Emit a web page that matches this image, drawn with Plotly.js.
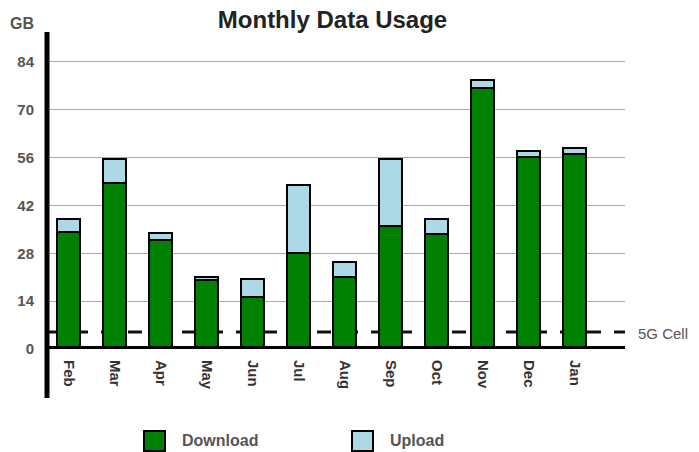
<!DOCTYPE html>
<html>
<head>
<meta charset="utf-8">
<script src="https://cdn.plot.ly/plotly-3.0.1.min.js"></script>
<style>
html,body{margin:0;padding:0;background:#fff;}
#chart{width:699px;height:452px;}
</style>
</head>
<body>
<div id="chart"></div>
<script>
// Data (GB)
const months = ["Feb","Mar","Apr","May","Jun","Jul","Aug","Sep","Oct","Nov","Dec","Jan"];
const download = [34.3, 48.6, 31.9, 20.1, 15.3, 28.0, 21.1, 36.0, 33.5, 76.2, 56.2, 57.0];
const upload   = [3.7, 7.0, 1.9, 0.9, 5.1, 19.9, 4.4, 19.5, 4.5, 2.4, 1.8, 1.9];
const yTicks = [0, 14, 28, 42, 56, 70, 84];
const cellLimit = 5;
const seriesNames = ["Download", "Upload"];

const FONT = "Arial, 'Liberation Sans', sans-serif";
const green = "#008000";
const blue = "#add8e6";

// pixel -> paper helpers (plot area: x 47..625, y 32..349)
const L = 47, R = 74, T = 32, B = 103, W = 699, H = 452;
const pw = W - L - R, ph = H - T - B;
const px = x => (x - L) / pw;
const py = y => (H - B - y) / ph;

const traces = [
  {
    type: "bar", name: seriesNames[0], x: months, y: download,
    width: 0.5,
    marker: {color: green, line: {color: "#000", width: 2}},
    hoverinfo: "x+y"
  },
  {
    type: "bar", name: seriesNames[1], x: months, y: upload,
    width: 0.5,
    marker: {color: blue, line: {color: "#000", width: 2}},
    hoverinfo: "x+y"
  }
];

const layout = {
  width: W, height: H,
  margin: {l: L, r: R, t: T, b: B, pad: 0},
  paper_bgcolor: "#fff", plot_bgcolor: "#fff",
  barmode: "stack",
  showlegend: false,
  title: {
    text: "Monthly Data Usage",
    x: px(332.5), xref: "paper", xanchor: "center",
    y: 1 - 20 / H, yref: "container", yanchor: "middle",
    font: {family: FONT, size: 24, color: "#222", weight: "bold"}
  },
  xaxis: {
    type: "category",
    range: [-0.467, 12.1],
    showgrid: false, zeroline: false, showline: false,
    ticks: "", tickangle: 90,
    ticklabelstandoff: 10,
    tickfont: {family: FONT, size: 15, color: "#333", weight: "bold"},
    fixedrange: true
  },
  yaxis: {
    range: [0, 92.7],
    tickvals: yTicks,
    ticktext: yTicks.map(String),
    showgrid: true, gridcolor: "#aaaaaa", gridwidth: 1,
    zeroline: false, showline: false,
    ticks: "", ticklabelstandoff: 12,
    tickfont: {family: FONT, size: 15, color: "#555", weight: "bold"},
    fixedrange: true
  },
  shapes: [
    // 5G cell dashed reference line (behind bars)
    {type: "line", layer: "below", xref: "paper", yref: "y",
     x0: 0, x1: 1, y0: cellLimit, y1: cellLimit,
     line: {color: "#111", width: 3, dash: "14px,13px"}},
    // thick x axis
    {type: "line", layer: "above", xref: "paper", yref: "y",
     x0: 0, x1: 1, y0: 0, y1: 0,
     line: {color: "#000", width: 6}},
    // thick y axis, extended below zero
    {type: "line", layer: "above", xref: "paper", yref: "paper",
     x0: 0, x1: 0, y0: py(398), y1: 1,
     line: {color: "#000", width: 5}},
    // legend swatches
    {type: "rect", xref: "paper", yref: "paper",
     x0: px(144), x1: px(165), y0: py(451), y1: py(431),
     fillcolor: green, line: {color: "#000", width: 2}},
    {type: "rect", xref: "paper", yref: "paper",
     x0: px(352), x1: px(373), y0: py(451), y1: py(431),
     fillcolor: blue, line: {color: "#000", width: 2}}
  ],
  annotations: [
    {text: "GB", xref: "paper", yref: "paper", x: px(22), y: py(24),
     xanchor: "center", yanchor: "middle", showarrow: false,
     font: {family: FONT, size: 16, color: "#555", weight: "bold"}},
    {text: "5G Cell", xref: "paper", yref: "y", x: px(636), y: cellLimit,
     xanchor: "left", yanchor: "middle", yshift: -2, showarrow: false,
     font: {family: FONT, size: 15, color: "#555"}},
    {text: seriesNames[0], xref: "paper", yref: "paper", x: px(180), y: py(440),
     xanchor: "left", yanchor: "middle", showarrow: false,
     font: {family: FONT, size: 16, color: "#555", weight: "bold"}},
    {text: seriesNames[1], xref: "paper", yref: "paper", x: px(388), y: py(440),
     xanchor: "left", yanchor: "middle", showarrow: false,
     font: {family: FONT, size: 16, color: "#555", weight: "bold"}}
  ]
};

Plotly.newPlot("chart", traces, layout, {displayModeBar: false, staticPlot: true});
</script>
</body>
</html>
